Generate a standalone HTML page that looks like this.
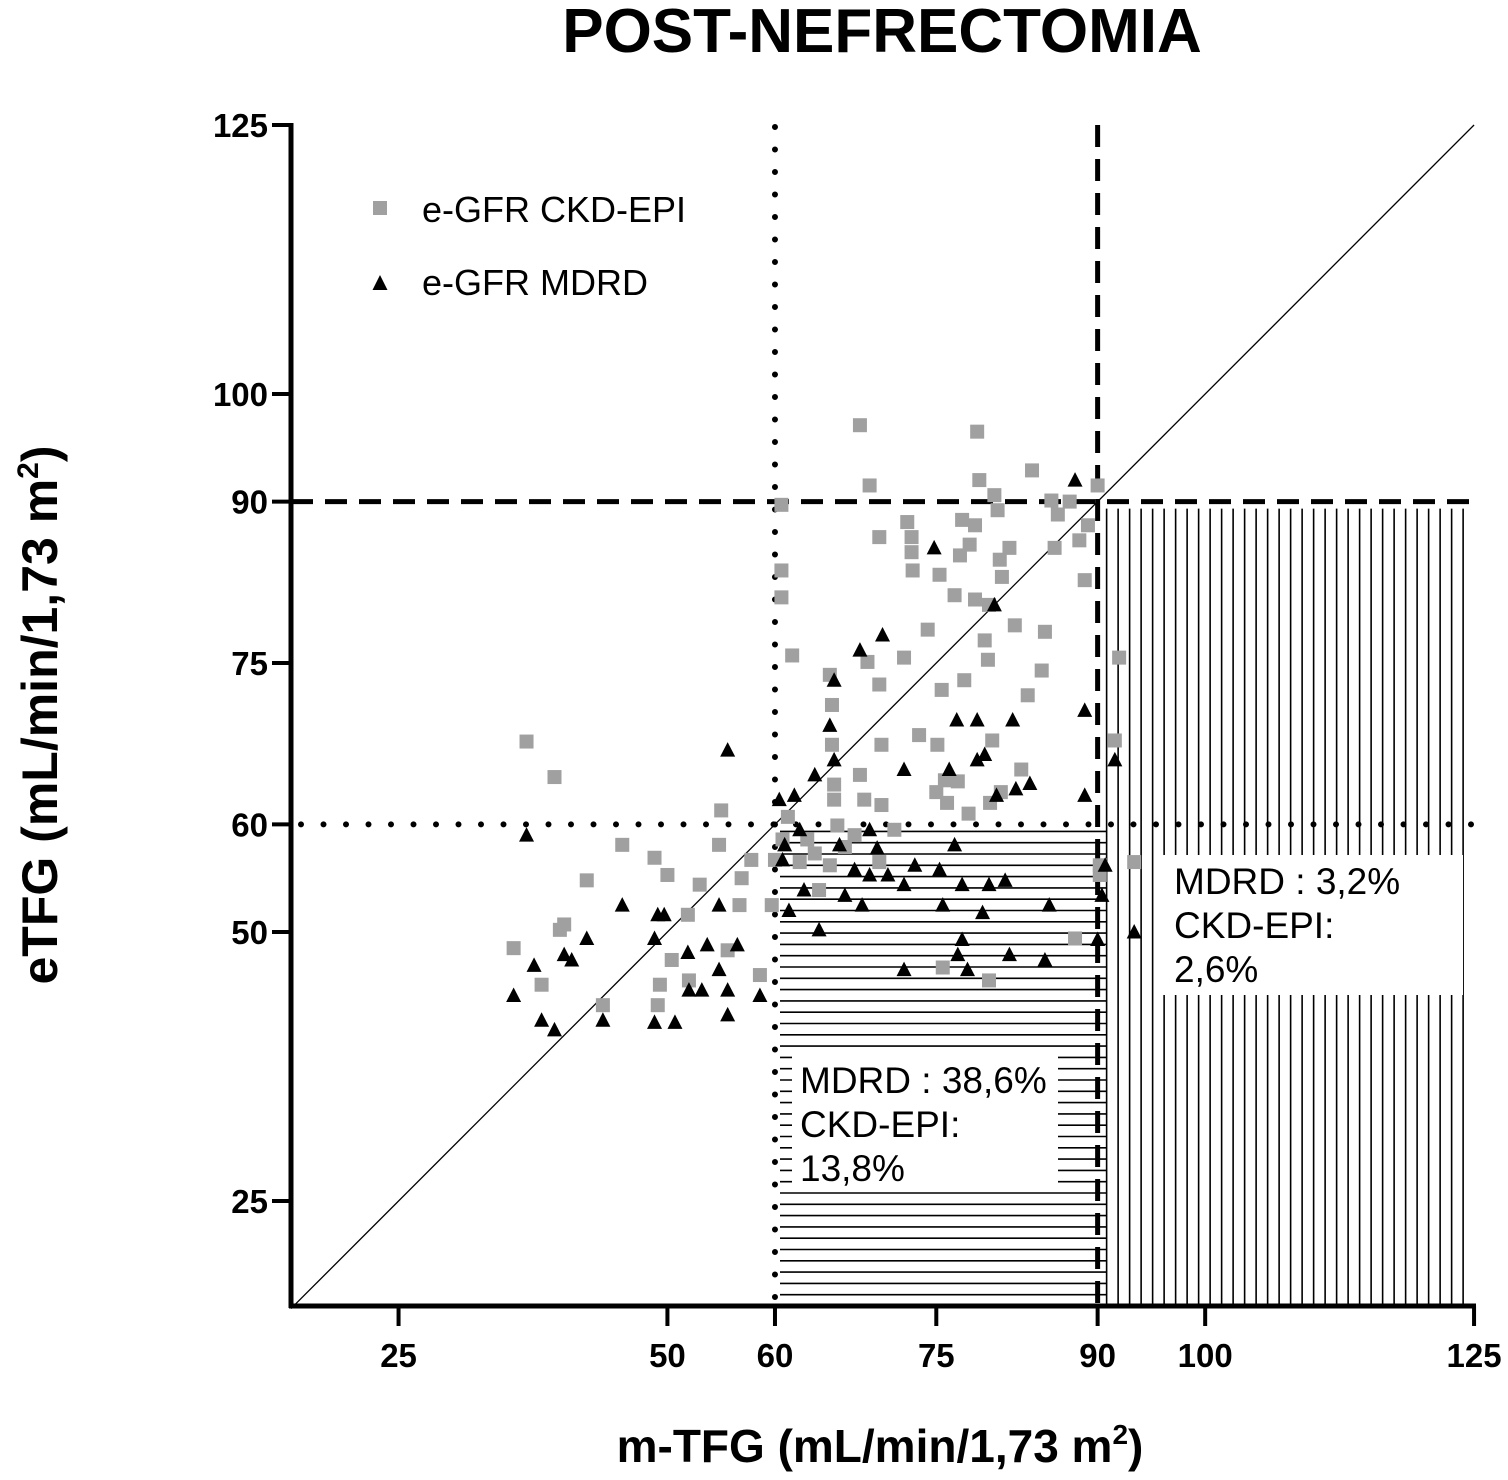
<!DOCTYPE html>
<html><head><meta charset="utf-8"><style>
html,body{margin:0;padding:0;background:#fff;}
svg{display:block;font-family:"Liberation Sans",Arial,sans-serif;}
</style></head><body>
<svg id="chart" width="1508" height="1480" viewBox="0 0 1508 1480" xmlns="http://www.w3.org/2000/svg">
<text x="882" y="52" text-anchor="middle" font-size="62" font-weight="bold">POST-NEFRECTOMIA</text>
<text transform="translate(57,715) rotate(-90)" text-anchor="middle" font-size="50" font-weight="bold">eTFG (mL/min/1,73 m<tspan dy="-19" font-size="30">2</tspan><tspan dy="19">)</tspan></text>
<text x="880" y="1462" text-anchor="middle" font-size="46" font-weight="bold">m-TFG (mL/min/1,73 m<tspan dy="-18" font-size="28">2</tspan><tspan dy="18">)</tspan></text>
<g id="plot"></g>
</svg>
<script>
const xTicks=[25,50,60,75,90,100,125];
const yTicks=[25,50,60,75,90,100,125];
const sqX=[35.7,36.9,39.5,38.3,40.0,40.4,42.5,44.0,45.8,48.8,49.1,50.0,49.3,50.4,51.9,53.0,52.0,54.8,55.0,55.6,56.9,57.8,56.7,58.6,59.7,60.0,60.6,60.6,60.6,61.6,60.7,61.2,62.3,63.0,63.7,64.1,65.1,65.3,65.3,65.5,65.5,65.8,65.1,66.5,67.4,67.9,67.9,68.3,68.8,68.6,69.7,69.7,69.9,69.9,69.7,71.1,72.0,72.3,72.7,72.7,72.8,73.4,74.2,75.1,75.3,75.5,75.8,76.7,77.2,77.4,77.6,78.1,78.6,79.0,78.8,78.6,79.5,79.8,79.9,80.2,80.4,80.7,80.9,81.1,81.8,82.3,82.9,83.5,83.9,84.8,85.1,85.7,86.0,86.3,87.4,87.9,88.3,88.8,89.1,90.0,91.6,92.0,93.4,90.2,90.2,75.6,79.9,75,76,77,78,80,81];
const sqY=[48.5,67.7,64.4,45.1,50.2,50.7,54.8,43.2,58.1,56.9,43.2,55.3,45.1,47.4,51.6,54.4,45.5,58.1,61.3,48.3,55.0,56.7,52.5,46.0,52.5,56.7,89.7,83.6,81.1,75.7,58.6,60.7,56.5,58.6,57.3,53.9,73.9,71.1,67.4,63.7,62.3,59.9,56.2,57.9,59.0,97.1,64.6,62.3,91.5,75.1,86.7,73.0,67.4,61.8,56.5,59.5,75.5,88.1,86.7,85.3,83.6,68.3,78.1,67.4,83.2,72.5,64.1,81.3,85.0,88.3,73.4,86.0,80.9,92.0,96.5,87.8,77.1,75.3,80.4,67.8,90.6,89.2,84.6,83.0,85.7,78.5,65.1,72.0,92.9,74.3,77.9,90.1,85.7,88.8,90.0,49.4,86.4,82.7,87.8,91.5,67.8,75.5,56.5,56.2,55.3,46.7,45.5,63,62,64,61,62,63];
const trX=[36.9,35.7,38.3,39.5,37.6,40.4,41.1,42.5,44.0,45.8,48.8,48.8,49.7,50.7,49.1,51.9,52.0,53.2,53.7,54.8,54.8,55.6,56.5,55.6,55.6,58.6,60.4,60.9,60.7,61.8,62.3,61.3,62.7,63.7,64.1,65.1,65.5,65.5,66.0,66.5,67.9,68.8,67.4,68.1,68.8,69.5,70.0,70.5,72.0,72.0,73.0,74.8,75.6,76.2,76.9,77.4,77.4,78.8,78.8,79.5,80.4,80.6,82.1,82.4,85.5,87.9,88.8,88.8,91.6,93.4,90.7,90.0,90.4,77.0,77.9,85.1,72.0,81.4,79.3,79.9,81.8,76.7,75.3,83.7];
const trY=[59.0,44.1,41.8,40.9,46.9,47.9,47.4,49.4,41.8,52.5,49.4,41.6,51.6,41.6,51.6,48.1,44.6,44.6,48.8,46.5,52.5,66.9,48.8,44.6,42.3,44.1,62.3,58.1,56.7,62.7,59.5,52.0,53.9,64.6,50.2,69.2,73.4,66.0,58.1,53.4,76.2,59.5,55.8,52.5,55.3,57.8,77.6,55.3,65.1,54.4,56.2,85.7,52.5,65.1,69.7,54.4,49.3,69.7,66.0,66.5,80.4,62.7,69.7,63.3,52.5,92.0,62.7,70.6,66.0,50.0,56.2,49.3,53.4,47.9,46.5,47.4,46.5,54.8,51.8,54.4,47.9,58.1,55.8,63.8];

const NS="http://www.w3.org/2000/svg";
const X0=291, XS=10.755, Y0=1308.6, YS=10.76;
function sx(v){return X0+(v-15)*XS;}
function sy(v){return Y0-(v-15)*YS;}
const g=document.getElementById('plot');
function mk(tag,attrs){const e=document.createElementNS(NS,tag);for(const k in attrs)e.setAttribute(k,attrs[k]);g.appendChild(e);return e;}

for(let y=sy(60)+7;y<=1306;y+=11.3){
  const l=mk('line',{x1:780,x2:1106,y1:y,y2:y,stroke:'#000','stroke-width':1.6});
  
  
}
for(let x=sx(90)+9;x<=1468;x+=11.5){
  const l=mk('line',{x1:x,x2:x,y1:sy(90)+7,y2:1306,stroke:'#000','stroke-width':1.6});
  
  
}
let b=mk('rect',{x:792,y:1048,width:266,height:144,fill:'#fff'});


b=mk('rect',{x:1163,y:855,width:300,height:140,fill:'#fff'});


function txt(x,y,s,name,extra){const t=mk('text',Object.assign({x:x,y:y,'font-size':37},extra||{}));t.textContent=s;
  
  return t;}
txt(800,1093,'MDRD : 38,6%','annotation-mdrd-60-90');
txt(800,1137,'CKD-EPI:','annotation-ckdepi-label-60-90');
txt(800,1181,'13,8%','annotation-ckdepi-60-90');
txt(1174,894,'MDRD : 3,2%','annotation-mdrd-over-90');
txt(1174,938,'CKD-EPI:','annotation-ckdepi-label-over-90');
txt(1174,982,'2,6%','annotation-ckdepi-over-90');

let d=mk('line',{x1:sx(15),y1:sy(15),x2:sx(125),y2:sy(125),stroke:'#000','stroke-width':1.3});


d=mk('line',{x1:sx(15),x2:sx(125),y1:sy(90),y2:sy(90),stroke:'#000','stroke-width':5,'stroke-dasharray':'22 12'});


d=mk('line',{x1:sx(90),x2:sx(90),y1:sy(125),y2:1306,stroke:'#000','stroke-width':5,'stroke-dasharray':'22 12'});


d=mk('line',{x1:sx(15)+10,x2:sx(125),y1:sy(60),y2:sy(60),stroke:'#000','stroke-width':6,'stroke-dasharray':'0 22.5','stroke-linecap':'round'});


d=mk('line',{x1:sx(60),x2:sx(60),y1:sy(125)+2,y2:1306,stroke:'#000','stroke-width':6,'stroke-dasharray':'0 22.5','stroke-linecap':'round'});



for(let i=0;i<sqX.length;i++){
  const r=mk('rect',{x:sx(sqX[i])-7,y:sy(sqY[i])-7,width:14,height:14,fill:'#a0a0a0'});
  
  
}
for(let i=0;i<trX.length;i++){
  const cx=sx(trX[i]),cy=sy(trY[i]);
  const p=mk('polygon',{points:`${cx},${cy-8} ${cx-7.5},${cy+6.5} ${cx+7.5},${cy+6.5}`,fill:'#000'});
  
  
}

d=mk('line',{x1:291,x2:291,y1:123,y2:1308,stroke:'#000','stroke-width':5});


d=mk('line',{x1:289,x2:1476,y1:1306,y2:1306,stroke:'#000','stroke-width':5});


for(const v of yTicks){
  const t=mk('line',{x1:272,x2:291,y1:sy(v),y2:sy(v),stroke:'#000','stroke-width':4});
  
  
  const l=mk('text',{x:268,y:sy(v)+12,'text-anchor':'end','font-size':33,'font-weight':'bold'});
  l.textContent=v;
  
  
}
for(const v of xTicks){
  const t=mk('line',{x1:sx(v),x2:sx(v),y1:1306,y2:1326,stroke:'#000','stroke-width':4});
  
  
  const l=mk('text',{x:sx(v),y:1367,'text-anchor':'middle','font-size':33,'font-weight':'bold'});
  l.textContent=v;
  
  
}
let lg=mk('rect',{x:373,y:201,width:14,height:14,fill:'#a0a0a0'});


txt(422,222,'e-GFR CKD-EPI','legend-label-ckd-epi',{'font-size':36});
lg=mk('polygon',{points:'380,275 372.5,290 387.5,290',fill:'#000'});


txt(422,295,'e-GFR MDRD','legend-label-mdrd',{'font-size':36});
</script>
</body></html>
